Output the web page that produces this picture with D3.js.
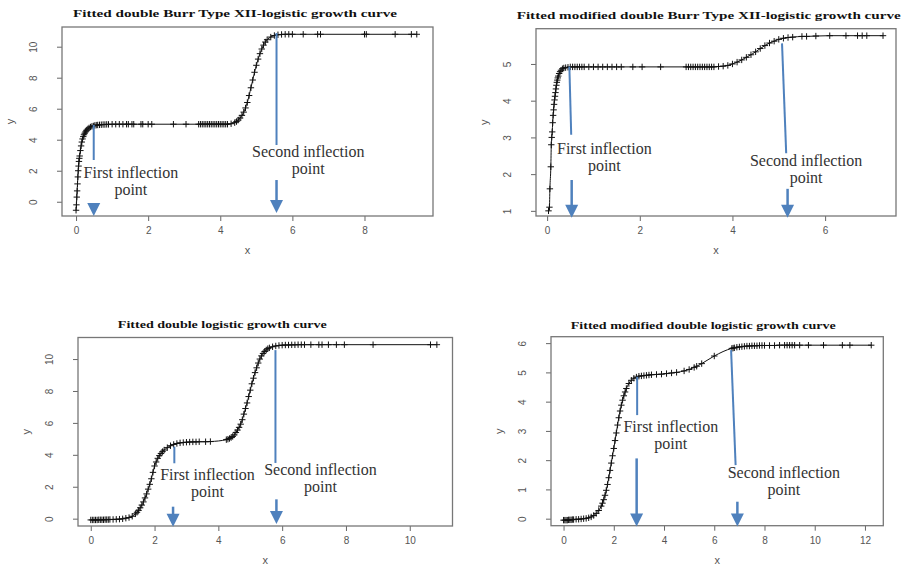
<!DOCTYPE html>
<html>
<head>
<meta charset="utf-8">
<script src="https://cdn.jsdelivr.net/npm/d3@7"></script>
<style>
  body { margin: 0; background: #fff; }
  svg { display: block; }
  .title { font-family: "Liberation Serif", "Times New Roman", serif; font-weight: bold; font-size: 11px; fill: #111; }
  .note { font-family: "Liberation Serif", "Times New Roman", serif; font-size: 16px; fill: #333; }
  .axisLabel { font-family: "Liberation Sans", Arial, sans-serif; font-size: 11px; fill: #555; }
</style>
</head>
<body>
<svg id="chart"></svg>
<script>
const burrObs = [[0.00,-0.55],[0.01,-0.2],[0.02,0.3],[0.03,0.7],[0.04,1.15],[0.05,1.6],[0.06,2.0],[0.07,2.3],[0.08,2.6],[0.09,2.8],[0.10,2.95],[0.12,3.3],[0.14,3.6],[0.16,3.85],[0.18,4.05],[0.20,4.2],[0.22,4.32],[0.24,4.42],[0.26,4.5],[0.28,4.57],[0.30,4.63],[0.33,4.7],[0.36,4.76],[0.40,4.82],[0.44,4.86],[0.48,4.89],[0.52,4.92],[0.56,4.94],[0.60,4.95],[0.65,4.96],[0.70,4.97],[0.75,4.98],[0.80,4.98],[0.85,4.99],[0.90,4.99],[1.00,5.0],[1.10,5.0],[1.20,5.0],[1.30,5.0],[1.40,5.0],[1.45,5.0],[1.55,5.0],[1.60,5.0],[1.80,5.0],[1.85,5.0],[2.00,5.0],[2.10,5.0],[2.70,5.0],[3.05,5.0],[3.40,5.0],[3.45,5.0],[3.50,5.0],[3.55,5.0],[3.60,5.0],[3.65,5.0],[3.70,5.0],[3.75,5.0],[3.80,5.0],[3.85,5.0],[3.90,5.0],[3.95,5.0],[4.00,5.0],[4.05,5.0],[4.10,5.0],[4.15,5.0],[4.20,5.0],[4.30,5.03],[4.40,5.1],[4.45,5.17],[4.50,5.27],[4.55,5.4],[4.60,5.57],[4.65,5.78],[4.70,6.05],[4.75,6.4],[4.80,6.85],[4.85,7.35],[4.90,7.85],[4.95,8.35],[5.00,8.8],[5.05,9.2],[5.10,9.55],[5.15,9.85],[5.20,10.1],[5.25,10.3],[5.30,10.45],[5.40,10.62],[5.50,10.72],[5.60,10.77],[5.70,10.79],[5.80,10.8],[5.90,10.8],[6.00,10.8],[6.30,10.8],[6.70,10.8],[6.78,10.8],[8.00,10.8],[8.05,10.8],[8.85,10.8],[9.30,10.8],[9.45,10.8]];

const modBurrObs = [[0.03,1.0],[0.05,1.1],[0.06,1.6],[0.08,2.2],[0.09,2.8],[0.10,3.0],[0.11,3.15],[0.12,3.4],[0.13,3.6],[0.14,3.75],[0.15,3.9],[0.16,4.02],[0.17,4.12],[0.18,4.22],[0.19,4.32],[0.20,4.42],[0.21,4.5],[0.22,4.56],[0.23,4.62],[0.24,4.67],[0.26,4.74],[0.28,4.79],[0.30,4.83],[0.33,4.87],[0.36,4.89],[0.40,4.9],[0.45,4.91],[0.50,4.92],[0.55,4.92],[0.60,4.92],[0.65,4.92],[0.70,4.92],[0.75,4.92],[0.80,4.92],[0.90,4.92],[1.00,4.92],[1.10,4.92],[1.20,4.92],[1.30,4.92],[1.40,4.92],[1.50,4.92],[1.60,4.92],[1.85,4.92],[2.05,4.92],[2.45,4.92],[3.00,4.92],[3.05,4.92],[3.10,4.92],[3.15,4.92],[3.20,4.92],[3.25,4.92],[3.30,4.92],[3.35,4.92],[3.40,4.92],[3.45,4.92],[3.50,4.92],[3.55,4.92],[3.60,4.92],[3.70,4.93],[3.80,4.94],[3.90,4.96],[4.00,5.0],[4.10,5.05],[4.20,5.11],[4.30,5.18],[4.40,5.25],[4.50,5.33],[4.60,5.42],[4.70,5.5],[4.80,5.57],[4.90,5.62],[5.00,5.67],[5.10,5.7],[5.20,5.72],[5.30,5.73],[5.50,5.75],[5.60,5.75],[5.80,5.76],[6.10,5.77],[6.45,5.77],[6.70,5.77],[6.80,5.77],[6.90,5.77],[7.25,5.77]];

const logisticObs = [[0.00,-0.08],[0.05,-0.08],[0.10,-0.08],[0.15,-0.08],[0.20,-0.08],[0.25,-0.07],[0.30,-0.07],[0.35,-0.07],[0.40,-0.07],[0.45,-0.06],[0.50,-0.06],[0.55,-0.06],[0.60,-0.05],[0.70,-0.05],[0.80,-0.04],[0.90,-0.03],[1.00,-0.01],[1.10,0.03],[1.20,0.07],[1.30,0.15],[1.40,0.3],[1.45,0.4],[1.50,0.52],[1.55,0.68],[1.60,0.85],[1.65,1.05],[1.70,1.3],[1.75,1.55],[1.80,1.85],[1.85,2.15],[1.90,2.5],[1.95,2.9],[2.00,3.3],[2.05,3.55],[2.10,3.78],[2.15,3.95],[2.20,4.08],[2.25,4.2],[2.30,4.3],[2.40,4.45],[2.50,4.57],[2.60,4.65],[2.70,4.71],[2.80,4.75],[2.90,4.77],[3.00,4.79],[3.10,4.8],[3.20,4.81],[3.30,4.81],[3.40,4.82],[3.60,4.82],[3.75,4.83],[4.25,4.95],[4.30,4.98],[4.35,5.02],[4.40,5.08],[4.45,5.15],[4.50,5.25],[4.55,5.4],[4.60,5.55],[4.65,5.72],[4.70,5.92],[4.75,6.2],[4.80,6.55],[4.85,6.9],[4.90,7.25],[4.95,7.65],[5.00,8.05],[5.05,8.45],[5.10,8.8],[5.15,9.15],[5.20,9.45],[5.25,9.75],[5.30,10.0],[5.35,10.2],[5.40,10.35],[5.45,10.47],[5.50,10.57],[5.55,10.65],[5.60,10.7],[5.70,10.77],[5.80,10.82],[5.90,10.85],[6.00,10.87],[6.10,10.88],[6.20,10.88],[6.30,10.89],[6.40,10.89],[6.50,10.9],[6.60,10.9],[6.70,10.9],[6.90,10.9],[7.15,10.9],[7.25,10.9],[7.45,10.9],[7.70,10.9],[7.95,10.9],[8.85,10.9],[10.65,10.9],[10.85,10.9]];

const modLogisticObs = [[0.00,-0.05],[0.05,-0.05],[0.10,-0.05],[0.15,-0.05],[0.20,-0.04],[0.25,-0.04],[0.30,-0.04],[0.35,-0.03],[0.40,-0.03],[0.50,-0.02],[0.60,-0.02],[0.70,-0.01],[0.80,0.0],[0.90,0.01],[1.00,0.03],[1.10,0.06],[1.20,0.11],[1.30,0.18],[1.40,0.28],[1.50,0.43],[1.55,0.53],[1.60,0.65],[1.65,0.8],[1.70,0.97],[1.75,1.17],[1.80,1.4],[1.85,1.65],[1.90,1.9],[1.95,2.15],[2.00,2.4],[2.05,2.67],[2.10,2.93],[2.15,3.2],[2.20,3.45],[2.25,3.68],[2.30,3.88],[2.35,4.05],[2.40,4.2],[2.45,4.33],[2.50,4.45],[2.60,4.62],[2.70,4.73],[2.80,4.8],[2.90,4.84],[3.00,4.87],[3.10,4.88],[3.20,4.89],[3.30,4.9],[3.40,4.91],[3.50,4.92],[3.70,4.93],[3.90,4.94],[4.10,4.96],[4.30,4.98],[4.50,5.0],[4.80,5.05],[5.00,5.1],[5.20,5.17],[5.30,5.21],[5.50,5.3],[6.00,5.56],[6.70,5.82],[6.75,5.83],[6.80,5.84],[6.90,5.86],[7.00,5.87],[7.10,5.88],[7.20,5.89],[7.30,5.9],[7.40,5.9],[7.50,5.91],[7.60,5.91],[7.70,5.91],[7.80,5.92],[7.90,5.92],[8.00,5.92],[8.20,5.92],[8.40,5.92],[8.60,5.93],[8.80,5.93],[8.90,5.93],[9.00,5.93],[9.10,5.93],[9.20,5.93],[9.40,5.93],[9.75,5.93],[10.35,5.93],[11.10,5.93],[11.40,5.93],[12.25,5.93]];

// tick labels
const burrXTicks = [0, 2, 4, 6, 8];
const burrYTicks = [0, 2, 4, 6, 8, 10];
const modBurrXTicks = [0, 2, 4, 6];
const modBurrYTicks = [1, 2, 3, 4, 5];
const logisticXTicks = [0, 2, 4, 6, 8, 10];
const logisticYTicks = [0, 2, 4, 6, 8, 10];
const modLogisticXTicks = [0, 2, 4, 6, 8, 10, 12];
const modLogisticYTicks = [0, 1, 2, 3, 4, 5, 6];

const titles = [
    "Fitted double Burr Type XII-logistic growth curve",
    "Fitted modified double Burr Type XII-logistic growth curve",
    "Fitted double logistic growth curve",
    "Fitted modified double logistic growth curve"
];

// inflection annotations, in data units: guide line, label anchor, arrow
const burrNotes = [
    { line: [0.49, 4.95, 0.49, 2.69], label: ["First inflection", "point"], at: [1.52, 1.53], arrow: [0.49, -0.08, -0.92] },
    { line: [5.56, 10.88, 5.56, 3.66], label: ["Second inflection", "point"], at: [6.44, 2.9], arrow: [5.56, 1.4, -0.73] }
];
const modBurrNotes = [
    { line: [0.48, 4.93, 0.52, 3.07], label: ["First inflection", "point"], at: [1.235, 2.55], arrow: [0.53, 1.84, 0.81] },
    { line: [5.07, 5.56, 5.16, 2.57], label: ["Second inflection", "point"], at: [5.59, 2.23], arrow: [5.19, 1.6, 0.81] }
];
const logisticNotes = [
    { line: [2.62, 4.51, 2.62, 3.47], label: ["First inflection", "point"], at: [3.66, 2.42], arrow: [2.58, 0.75, -0.5] },
    { line: [5.79, 10.56, 5.79, 3.49], label: ["Second inflection", "point"], at: [7.2, 2.74], arrow: [5.82, 1.21, -0.33] }
];
const modLogisticNotes = [
    { line: [2.93, 4.85, 2.93, 3.54], label: ["First inflection", "point"], at: [4.27, 2.95], arrow: [2.91, 2.06, -0.27] },
    { line: [6.67, 5.76, 6.85, 1.83], label: ["Second inflection", "point"], at: [8.77, 1.38], arrow: [6.92, 0.58, -0.27] }
];

// ---- layout ----
const blue = "#4f81bd";
const panels = [
    { title: titles[0], titleX: 235, titleY: 17, titleW: 324,
      box: { left: 62, top: 27, right: 433, bottom: 216 }, xDomain: [-0.39, 9.9], yDomain: [-0.92, 11.27],
      obs: burrObs, xTicks: burrXTicks, yTicks: burrYTicks, notes: burrNotes },
    { title: titles[1], titleX: 708.7, titleY: 19, titleW: 384,
      box: { left: 536, top: 28.7, right: 896, bottom: 216 }, xDomain: [-0.24, 7.53], yDomain: [0.86, 5.96],
      obs: modBurrObs, xTicks: modBurrXTicks, yTicks: modBurrYTicks, notes: modBurrNotes },
    { title: titles[2], titleX: 222.3, titleY: 328, titleW: 209,
      box: { left: 78, top: 337.5, right: 452.5, bottom: 526 }, xDomain: [-0.4, 11.34], yDomain: [-0.46, 11.35],
      obs: logisticObs, xTicks: logisticXTicks, yTicks: logisticYTicks, notes: logisticNotes },
    { title: titles[3], titleX: 703.3, titleY: 328.5, titleW: 265,
      box: { left: 551, top: 336.7, right: 883.3, bottom: 525.7 }, xDomain: [-0.5, 12.73], yDomain: [-0.24, 6.22],
      obs: modLogisticObs, xTicks: modLogisticXTicks, yTicks: modLogisticYTicks, notes: modLogisticNotes }
];

const svg = d3.select("#chart").attr("width", 904).attr("height", 567);

function drawPanel(p) {
    const b = p.box;
    const xScale = d3.scaleLinear().domain(p.xDomain).range([b.left, b.right]);
    const yScale = d3.scaleLinear().domain(p.yDomain).range([b.bottom, b.top]);
    const g = svg.append("g");

    g.append("text")
        .attr("class", "title")
        .attr("x", p.titleX)
        .attr("y", p.titleY)
        .attr("text-anchor", "middle")
        .attr("textLength", p.titleW)
        .attr("lengthAdjust", "spacingAndGlyphs")
        .text(p.title);

    // x axis
    g.append("g")
        .attr("transform", "translate(0," + b.bottom + ")")
        .call(d3.axisBottom(xScale).tickValues(p.xTicks).tickSize(5).tickPadding(6).tickFormat(d3.format("d")))
        .call(a => a.select(".domain").remove())
        .call(a => a.selectAll("line").attr("stroke", "#666"))
        .call(a => a.selectAll("text").attr("fill", "#555")
            .style("font-family", "'Liberation Sans', Arial, sans-serif").style("font-size", "10px"));

    // y axis, labels turned like base R
    g.append("g")
        .attr("transform", "translate(" + b.left + ",0)")
        .call(d3.axisLeft(yScale).tickValues(p.yTicks).tickSize(5).tickFormat(d3.format("d")))
        .call(a => a.select(".domain").remove())
        .call(a => a.selectAll("line").attr("stroke", "#666"))
        .call(a => a.selectAll(".tick text")
            .attr("transform", "rotate(-90)")
            .attr("x", 0).attr("y", -25).attr("dy", null)
            .attr("text-anchor", "middle")
            .attr("fill", "#555")
            .style("font-family", "'Liberation Sans', Arial, sans-serif").style("font-size", "10px"));

    g.append("rect")
        .attr("x", b.left).attr("y", b.top)
        .attr("width", b.right - b.left).attr("height", b.bottom - b.top)
        .attr("fill", "none").attr("stroke", "#777").attr("stroke-width", 1.3);

    g.append("text").attr("class", "axisLabel")
        .attr("x", (b.left + b.right) / 2).attr("y", b.bottom + 38)
        .attr("text-anchor", "middle").text("x");
    g.append("text").attr("class", "axisLabel")
        .attr("transform", "translate(" + (b.left - 48) + "," + ((b.top + b.bottom) / 2) + ") rotate(-90)")
        .attr("text-anchor", "middle").text("y");

    // fitted curve + observations
    const line = d3.line()
        .x(d => xScale(d[0]))
        .y(d => yScale(d[1]))
        .curve(d3.curveMonotoneX);
    g.append("path")
        .datum(p.obs)
        .attr("d", line)
        .attr("fill", "none")
        .attr("stroke", "#111")
        .attr("stroke-width", 1);

    g.selectAll(".obs")
        .data(p.obs)
        .enter()
        .append("path")
        .attr("class", "obs")
        .attr("transform", d => "translate(" + xScale(d[0]) + "," + yScale(d[1]) + ")")
        .attr("d", "M-3.2,0H3.2M0,-3.2V3.2")
        .attr("stroke", "#111")
        .attr("stroke-width", 1);

    // inflection notes
    p.notes.forEach(n => {
        g.append("line")
            .attr("x1", xScale(n.line[0])).attr("y1", yScale(n.line[1]))
            .attr("x2", xScale(n.line[2])).attr("y2", yScale(n.line[3]))
            .attr("stroke", blue).attr("stroke-width", 2);

        const ax = xScale(n.arrow[0]),
            ay1 = yScale(n.arrow[1]),
            tip = yScale(n.arrow[2]),
            head = 13;
        if (tip - head > ay1) {
            g.append("line")
                .attr("x1", ax).attr("y1", ay1)
                .attr("x2", ax).attr("y2", tip - head + 1)
                .attr("stroke", blue).attr("stroke-width", 2.5);
        }
        g.append("path")
            .attr("d", "M" + (ax - 6.5) + "," + (tip - head) + "L" + (ax + 6.5) + "," + (tip - head) + "L" + ax + "," + tip + "Z")
            .attr("fill", blue);

        const t = g.append("text")
            .attr("class", "note")
            .attr("text-anchor", "middle");
        n.label.forEach((s, i) => {
            t.append("tspan")
                .attr("x", xScale(n.at[0]))
                .attr("y", yScale(n.at[1]) + i * 17)
                .text(s);
        });
    });
}

panels.forEach(drawPanel);
</script>
</body>
</html>
